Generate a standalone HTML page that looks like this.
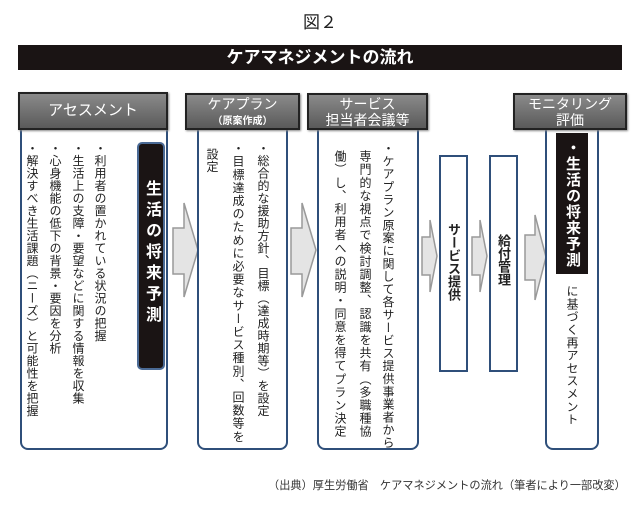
<!DOCTYPE html>
<html><head><meta charset="utf-8"><style>
body{margin:0;width:640px;height:507px;background:#fff;position:relative;overflow:hidden;font-family:"Liberation Sans","Noto Sans CJK JP",sans-serif;}
.a{position:absolute}
.hd{position:absolute;border:2px solid #222;background:linear-gradient(#8a8a8a,#5a5a5a);color:#fff;text-align:center;box-sizing:border-box;box-shadow:1px 1px 2px #888}
.bx{position:absolute;border:2px solid #2f4f7a;border-top:none;border-radius:0 0 8px 8px;box-sizing:border-box;background:#fff}
.v{position:absolute;writing-mode:vertical-rl;font-size:12px;letter-spacing:.5px;line-height:14px;color:#222;white-space:nowrap}
</style></head><body>
<div class="a" style="left:0;width:640px;top:8px;text-align:center;font-size:17px;color:#222">図２</div>
<div class="a" style="left:18px;top:45px;width:604px;height:25px;background:#1a1414;color:#fff;font-weight:bold;font-size:17px;text-align:center;line-height:25px">ケアマネジメントの流れ</div>

<svg class="a" style="left:0;top:0" width="640" height="507">
<g fill="#e4e4e4" stroke="#999" stroke-width="1.5">
<polygon points="115,228 128,228 128,203 150,250 128,297 128,274 115,274"/>
<polygon points="173,228 184,228 184,203 198,250 184,297 184,274 173,274"/>
<polygon points="291,228 302,228 302,203 316,250 302,297 302,274 291,274"/>
<polygon points="422,237 430,237 430,220 437,256 430,292 430,275 422,275"/>
<polygon points="472,237 480,237 480,220 487,256 480,292 480,275 472,275"/>
<polygon points="525,235 535,235 535,215 546,257 535,300 535,280 525,280"/>
</g></svg>

<div class="bx" style="left:20px;top:128px;width:148px;height:322px"></div>
<div class="bx" style="left:197px;top:128px;width:91px;height:322px"></div>
<div class="bx" style="left:317px;top:128px;width:102px;height:322px"></div>
<div class="bx" style="left:545px;top:128px;width:54px;height:322px"></div>
<div class="a" style="left:439px;top:155px;width:29px;height:217px;border:2px solid #2f4f7a;box-sizing:border-box;background:#fff"></div>
<div class="a" style="left:489px;top:155px;width:29px;height:217px;border:2px solid #2f4f7a;box-sizing:border-box;background:#fff"></div>

<div class="hd" style="left:18px;top:92px;width:150px;height:38px;font-size:15px;line-height:34px">アセスメント</div>
<div class="hd" style="left:185px;top:93px;width:115px;height:37px;font-size:14px;line-height:15px;padding-top:2px">ケアプラン<br><span style="font-size:10px;font-weight:bold">（原案作成）</span></div>
<div class="hd" style="left:307px;top:93px;width:121px;height:37px;font-size:14px;line-height:16px;padding-top:1px">サービス<br>担当者会議等</div>
<div class="hd" style="left:513px;top:93px;width:114px;height:37px;font-size:14px;line-height:16px;padding-top:1px">モニタリング<br>評価</div>

<div class="a" style="left:137px;top:142px;width:28px;height:228px;background:#1a1414;border:2px solid #4a6a95;border-radius:5px;box-sizing:border-box"></div>
<div class="v" style="left:142px;top:180px;font-size:16px;font-weight:bold;color:#fff;letter-spacing:5px;line-height:18px">生活の将来予測</div>

<div class="v" style="left:93px;top:142px">・利用者の置かれている状況の把握</div>
<div class="v" style="left:71px;top:142px">・生活上の支障・要望などに関する情報を収集</div>
<div class="v" style="left:48px;top:142px">・心身機能の低下の背景・要因を分析</div>
<div class="v" style="left:25px;top:142px">・解決すべき生活課題（ニーズ）と可能性を把握</div>

<div class="v" style="left:256px;top:142px">・総合的な援助方針、目標（達成時期等）を設定</div>
<div class="v" style="left:231px;top:142px;letter-spacing:1.1px">・目標達成のために必要なサービス種別、回数等を</div>
<div class="v" style="left:205px;top:148px">設定</div>

<div class="v" style="left:381px;top:142px;letter-spacing:.8px">・ケアプラン原案に関して各サービス提供事業者から</div>
<div class="v" style="left:358px;top:150px;letter-spacing:1.1px">専門的な視点で検討調整、認識を共有（多職種協</div>
<div class="v" style="left:333px;top:150px;letter-spacing:1.1px">働）し、利用者への説明・同意を得てプラン決定</div>

<div class="v" style="left:446px;top:223px;font-weight:bold;font-size:13px;letter-spacing:0">サービス提供</div>
<div class="v" style="left:496px;top:234px;font-weight:bold;font-size:13px;letter-spacing:0">給付管理</div>

<div class="a" style="left:556px;top:133px;width:32px;height:141px;background:#1a1414"></div>
<div class="v" style="left:564px;top:140px;font-size:15px;font-weight:bold;color:#fff;letter-spacing:1px;line-height:17px">・生活の将来予測</div>
<div class="v" style="left:565px;top:285px;font-size:12px;letter-spacing:.8px">に基づく再アセスメント</div>

<div class="a" style="left:268px;top:477px;font-size:11.2px;color:#333;white-space:nowrap">（出典）厚生労働省　ケアマネジメントの流れ（筆者により一部改変）</div>
</body></html>
